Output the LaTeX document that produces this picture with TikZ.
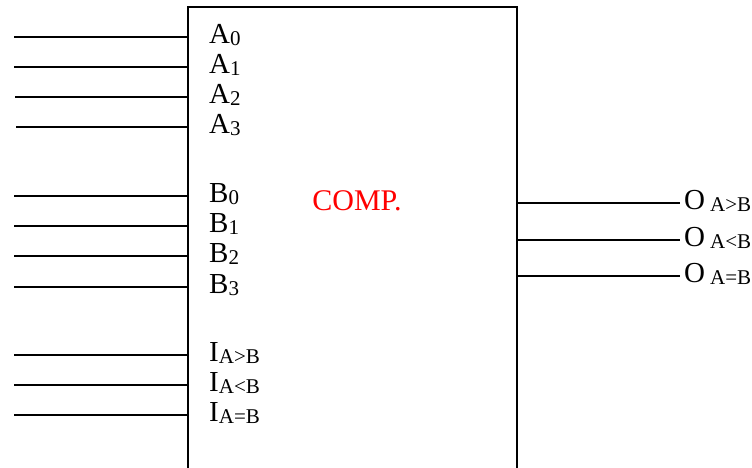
\documentclass[tikz,border=0pt]{standalone}
\usepackage{fontspec}
\setmainfont{Liberation Serif}
\newcommand{\sub}[1]{\raisebox{-2pt}{\fontsize{21}{24}\selectfont #1}}

\begin{document}
\begin{tikzpicture}[x=1pt,y=1pt,wire/.style={line width=1.8pt},
						pinlabel/.style={anchor=base west,inner sep=0pt,font=\fontsize{29}{33}\selectfont}
						]
						\useasboundingbox (0,0) rectangle (752,468);
						\node[draw,line width=1.8pt,outer sep=0pt,inner sep=0pt,minimum width=329pt,minimum height=500pt,anchor=north west] (comp) at (188,461) {};
						\node[text=red,font=\fontsize{30}{34}\selectfont] (title) at (357,267) {COMP.};
						% inputs A
						\node[pinlabel] (a0) at (209,424) {A\sub{0}};
						\node[pinlabel] (a1) at (209,394) {A\sub{1}};
						\node[pinlabel] (a2) at (209,364) {A\sub{2}};
						\node[pinlabel] (a3) at (209,334) {A\sub{3}};
						\coordinate (a0in) at (14,431); \coordinate (a1in) at (14,401);
						\coordinate (a2in) at (15,371); \coordinate (a3in) at (16,341);
						\draw[wire] (a0in) -- (a0in -| comp.west); \draw[wire] (a1in) -- (a1in -| comp.west);
						\draw[wire] (a2in) -- (a2in -| comp.west); \draw[wire] (a3in) -- (a3in -| comp.west);
						% inputs B
						\node[pinlabel] (b0) at (209,265) {B\sub{0}};
						\node[pinlabel] (b1) at (209,235) {B\sub{1}};
						\node[pinlabel] (b2) at (209,205) {B\sub{2}};
						\node[pinlabel] (b3) at (209,174) {B\sub{3}};
						\coordinate (b0in) at (14,272); \coordinate (b1in) at (14,242);
						\coordinate (b2in) at (14,212); \coordinate (b3in) at (14,181);
						\draw[wire] (b0in) -- (b0in -| comp.west); \draw[wire] (b1in) -- (b1in -| comp.west);
						\draw[wire] (b2in) -- (b2in -| comp.west); \draw[wire] (b3in) -- (b3in -| comp.west);
						% cascade inputs
						\node[pinlabel] (igt) at (209,106) {I\sub{A>B}};
						\node[pinlabel] (ilt) at (209,76) {I\sub{A<B}};
						\node[pinlabel] (ieq) at (209,46) {I\sub{A=B}};
						\coordinate (igtin) at (14,113); \coordinate (iltin) at (14,83); \coordinate (ieqin) at (14,53);
						\draw[wire] (igtin) -- (igtin -| comp.west); \draw[wire] (iltin) -- (iltin -| comp.west);
						\draw[wire] (ieqin) -- (ieqin -| comp.west);
						% outputs
						\coordinate (ogtout) at (680,265); \coordinate (oltout) at (680,228); \coordinate (oeqout) at (680,192);
						\node[pinlabel] (ogt) at (684,258) {O\hspace{5pt}\sub{A>B}};
						\node[pinlabel] (olt) at (684,221) {O\hspace{5pt}\sub{A<B}};
						\node[pinlabel] (oeq) at (684,185) {O\hspace{5pt}\sub{A=B}};
						\draw[wire] (ogtout -| comp.east) -- (ogtout); \draw[wire] (oltout -| comp.east) -- (oltout);
						\draw[wire] (oeqout -| comp.east) -- (oeqout);
\end{tikzpicture}
\end{document}
